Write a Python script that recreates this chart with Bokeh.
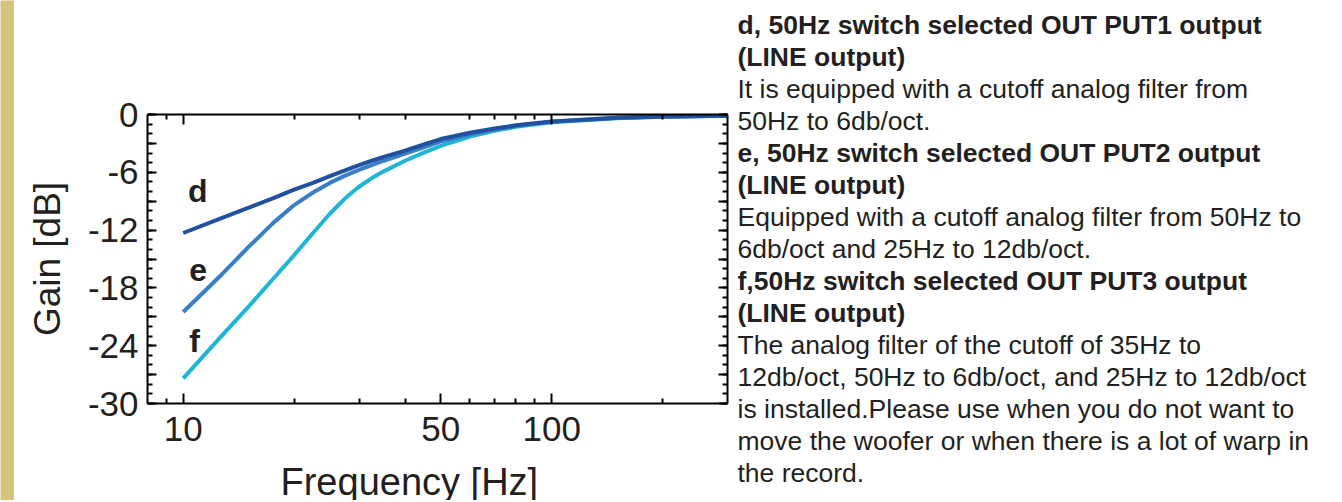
from bokeh.plotting import figure
from bokeh.layouts import row, column
from bokeh.models import LogAxis, LinearAxis, FixedTicker, Label, Range1d
from bokeh.core.properties import value
from bokeh.embed import file_html
from bokeh.resources import INLINE

# ---- data ----
freq = [10, 12.5, 15, 17.5, 20, 22.5, 25, 27.5, 30, 32.5, 35, 40, 45, 50, 60, 70, 80, 100, 150, 200, 300]
gain_d = [-12.3, -10.85, -9.7, -8.7, -7.8, -7.1, -6.4, -5.8, -5.25, -4.8, -4.4, -3.75, -3.1, -2.55, -1.9, -1.45, -1.12, -0.72, -0.35, -0.22, -0.12]
gain_e = [-20.5, -16.9, -13.8, -11.3, -9.4, -8.1, -7.1, -6.35, -5.75, -5.25, -4.8, -4.05, -3.4, -2.8, -2.05, -1.55, -1.18, -0.75, -0.37, -0.23, -0.12]
gain_f = [-27.4, -23.3, -20.0, -17.1, -14.6, -12.3, -10.3, -8.7, -7.5, -6.6, -5.9, -4.8, -3.95, -3.25, -2.3, -1.7, -1.28, -0.8, -0.38, -0.24, -0.12]

series_names = ["d", "e", "f"]

x_major_ticks = [10, 50, 100]
x_top_major_ticks = [10, 100]
x_minor_ticks = [9, 20, 30, 40, 60, 70, 80, 90, 200]
x_tick_labels = ["10", "50", "100"]
y_major_ticks = list(range(-30, 1, 3))
y_minor_ticks = list(range(-30, 1, 1))
y_labelled_ticks = [-30, -24, -18, -12, -6, 0]

x_title = "Frequency [Hz]"
y_title = "Gain [dB]"

side_text = [
    "d, 50Hz switch selected OUT PUT1 output",
    "(LINE output)",
    "It is equipped with a cutoff analog filter from",
    "50Hz to 6db/oct.",
    "e, 50Hz switch selected OUT PUT2 output",
    "(LINE output)",
    "Equipped with a cutoff analog filter from 50Hz to",
    "6db/oct and 25Hz to 12db/oct.",
    "f,50Hz switch selected OUT PUT3 output",
    "(LINE output)",
    "The analog filter of the cutoff of 35Hz to",
    "12db/oct, 50Hz to 6db/oct, and 25Hz to 12db/oct",
    "is installed.Please use when you do not want to",
    "move the woofer or when there is a lot of warp in",
    "the record.",
]
side_text_bold = [True, True, False, False, True, True, False, False, True, True, False, False, False, False, False]

# ---- layout geometry (page pixels) ----
H = 500
STRIP_W = 14
PLOT_W = 717            # page x 14 .. 731
PLOT_H = 466            # chart canvas, page y 0 .. 466
TITLE_H = H - PLOT_H    # x-title strip, page y 466 .. 500
TEXT_X0 = STRIP_W + PLOT_W
TEXT_W = 1340 - TEXT_X0
FONT = "Liberation Sans"
INK = "#231f20"


def bare_figure(w, h, **kw):
    f = figure(width=w, height=h, output_backend="svg", toolbar_location=None,
               x_axis_location=None, y_axis_location=None,
               min_border=0, min_border_left=0, min_border_right=0,
               min_border_top=0, min_border_bottom=0, frame_align=False, **kw)
    f.grid.visible = False
    f.outline_line_color = None
    return f


# ---- left strip ----
strip = bare_figure(STRIP_W, H)
strip.background_fill_color = "#d3c37b"
strip.border_fill_color = "#d3c37b"

# ---- chart ----
p = figure(width=PLOT_W, height=PLOT_H, x_axis_type="log",
           x_range=Range1d(8, 300), y_range=Range1d(-30, 0),
           output_backend="svg", toolbar_location=None,
           min_border_left=147 - STRIP_W, min_border_right=TEXT_X0 - 727,
           min_border_top=114, min_border_bottom=PLOT_H - 403, frame_align=False)
p.grid.visible = False
p.outline_line_color = None
p.background_fill_color = "white"
p.border_fill_color = "white"


def style_axis(ax, major_len):
    ax.axis_line_color = "black"
    ax.axis_line_width = 2
    ax.major_tick_line_color = "black"
    ax.minor_tick_line_color = "black"
    ax.major_tick_line_width = 2
    ax.minor_tick_line_width = 2
    ax.major_tick_in = major_len
    ax.major_tick_out = 0
    ax.minor_tick_in = 5
    ax.minor_tick_out = 0
    ax.major_label_text_font = FONT
    ax.major_label_text_color = INK


xb = p.xaxis[0]
xb.ticker = FixedTicker(ticks=x_major_ticks, minor_ticks=x_minor_ticks)
style_axis(xb, 10)
xb.major_label_overrides = {t: s for t, s in zip(x_major_ticks, x_tick_labels)}
xb.major_label_text_font_size = "35px"
xb.major_label_standoff = 13

yl = p.yaxis[0]
yl.ticker = FixedTicker(ticks=y_major_ticks, minor_ticks=y_minor_ticks)
style_axis(yl, 9)
yl.major_label_overrides = {t: (str(t) if t in y_labelled_ticks else "") for t in y_major_ticks}
yl.major_label_text_font_size = "35px"
yl.major_label_standoff = 9
yl.axis_label = y_title
yl.axis_label_text_font = FONT
yl.axis_label_text_font_size = "37px"
yl.axis_label_text_font_style = "normal"
yl.axis_label_text_color = INK
yl.axis_label_standoff = 17

xt = LogAxis(ticker=FixedTicker(ticks=x_top_major_ticks, minor_ticks=x_minor_ticks))
style_axis(xt, 10)
xt.major_label_overrides = {t: "" for t in x_top_major_ticks}
xt.major_label_text_font_size = "10px"
xt.major_label_standoff = 0
p.add_layout(xt, "above")

yr = LinearAxis(ticker=FixedTicker(ticks=y_major_ticks, minor_ticks=y_minor_ticks))
style_axis(yr, 9)
yr.major_label_overrides = {t: "" for t in y_major_ticks}
yr.major_label_text_font_size = "10px"
yr.major_label_standoff = 0
p.add_layout(yr, "right")

p.line(freq, gain_f, line_color="#1fb5d6", line_width=4)
p.line(freq, gain_e, line_color="#3a7ec4", line_width=4)
p.line(freq, gain_d, line_color="#2150a0", line_width=4)

for name, lx, ly in zip(series_names, [10.3, 10.38, 10.38], [-7.9, -16.15, -23.5]):
    p.add_layout(Label(x=lx, y=ly, text=name, text_font=FONT, text_font_size="32px",
                       text_font_style="bold", text_color=INK,
                       text_baseline="alphabetic", text_align="left"))

# ---- x title strip under the chart (data units = page pixels) ----
xt_fig = bare_figure(PLOT_W, TITLE_H, x_range=Range1d(STRIP_W, TEXT_X0),
                     y_range=Range1d(H, PLOT_H))
xt_fig.background_fill_color = "white"
xt_fig.border_fill_color = "white"
xt_fig.text(x=[280], y=[481], text=[x_title], text_font=value(FONT), text_font_size="38px",
            text_color=INK, text_baseline="alphabetic", text_align="left")

# ---- description text panel (data units = page pixels) ----
t = bare_figure(TEXT_W, H, x_range=Range1d(TEXT_X0, TEXT_X0 + TEXT_W), y_range=Range1d(H, 0))
t.background_fill_color = "white"
t.border_fill_color = "white"

baselines = [24 + i * 32.07 for i in range(len(side_text))]
for want_bold in (True, False):
    idx = [i for i, b in enumerate(side_text_bold) if b == want_bold]
    t.text(x=[737] * len(idx), y=[baselines[i] for i in idx],
           text=[side_text[i] for i in idx], text_font=value(FONT), text_font_size="26.5px",
           text_font_style="bold" if want_bold else "normal", text_color=INK,
           text_baseline="alphabetic", text_align="left")

layout = row(strip, column(p, xt_fig, spacing=0), t, spacing=0)
open("out.html", "w").write(file_html(layout, INLINE))
